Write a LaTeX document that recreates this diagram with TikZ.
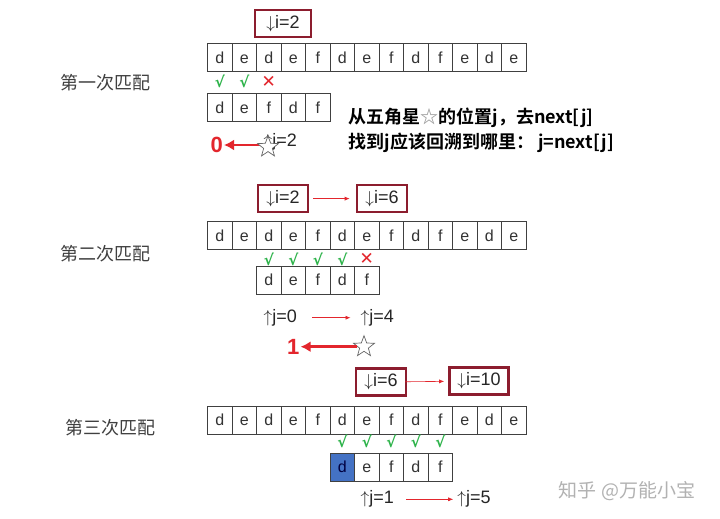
\documentclass[tikz,border=0pt]{standalone}
\usepackage{fontspec}
\setmainfont{Liberation Sans}
\newfontfamily\cjk[BoldFont={Noto Sans CJK SC Bold}]{Noto Sans CJK SC}
\newfontfamily\symfont{DejaVu Sans}
\usetikzlibrary{shapes.geometric,arrows.meta}
\definecolor{boxRed}{HTML}{8C1D2E}
\definecolor{arrowRed}{HTML}{E3262D}
\definecolor{okGreen}{HTML}{2DB34A}
\definecolor{cellBlue}{HTML}{4472C4}
\definecolor{labelGray}{HTML}{404040}

\begin{document}
\begin{tikzpicture}[x=1pt,y=-1pt,
  cell/.style={draw=black!75, line width=0.6pt, minimum width=24.5pt, minimum height=28pt,
    inner sep=0pt, text height=11.5pt, text depth=0pt, font=\fontsize{16}{16}\selectfont, text=black!80},
  ibox/.style={draw=boxRed, line width=2.6pt, minimum height=27pt, inner sep=2pt,
    font=\fontsize{18}{18}\selectfont, text=black!85},
  ptr/.style={inner sep=0pt, anchor=west, font=\fontsize{18}{18}\selectfont, text=black!85},
  thinarrow/.style={arrowRed, line width=0.6pt, -{Latex[length=5pt,width=4pt]}},
  backarrow/.style={arrowRed, line width=2.6pt, -{Latex[length=10pt,width=11pt]}},
  backnum/.style={text=arrowRed, inner sep=1pt, font=\fontsize{22}{22}\selectfont\bfseries},
  starmark/.style={star, star points=5, star point ratio=2.4, minimum size=22pt, inner sep=0pt,
    draw=black!60, fill=white, line width=0.7pt},
  ok/.style={text=okGreen, inner sep=0pt, font=\symfont\bfseries\fontsize{15}{15}\selectfont},
  bad/.style={text=arrowRed, inner sep=0pt, font=\symfont\bfseries\fontsize{17}{17}\selectfont},
  rowlabel/.style={text=labelGray, font=\cjk\fontsize{18}{18}\selectfont}
]
\useasboundingbox[fill=white] (0,0) rectangle (720,519);

% first match
\node[rowlabel] (la) at (105,82.7) {第一次匹配};
\node[ibox, minimum width=56pt] (ia) at (283,23.5) {$\downarrow$i=2};
\foreach \c [count=\k from 0] in {d,e,d,e,f,d,e,f,d,f,e,d,e}
  \node[cell] (ta-\k) at ({219.75+24.5*\k},57.5) {\c};
\foreach \k in {0,1}
  \node[ok] (ca-\k) at ({219.75+24.5*\k},81.7) {√};
\node[bad] (xa) at ({219.75+24.5*2},81.7) {✕};
\foreach \c [count=\k from 0] in {d,e,f,d,f}
  \node[cell] (pa-\k) at ({219.75+24.5*\k},107.5) {\c};
\node[ptr] (ja) at (263.5,142) {$\uparrow$j=2};
\node[backnum] (na) at (216.7,145) {0};
\draw[backarrow] (263,145) coordinate (sa-tail) -- (na);
\node[starmark] (sa) at (268,147) {};
\node[anchor=west, align=left, font=\cjk\bfseries\fontsize{18}{25}\selectfont] (note) at (345,130.5)
  {从五角星{\color{black!40}☆}的位置j，去next[j]\\找到j应该回溯到哪里： j=next[j]};

% second match
\node[rowlabel] (lb) at (105,253.3) {第二次匹配};
\node[ibox, minimum width=50pt] (ib1) at (283,198.6) {$\downarrow$i=2};
\node[ibox, minimum width=50pt] (ib2) at (382,198.6) {$\downarrow$i=6};
\draw[thinarrow, shorten <=4pt, shorten >=6pt] (ib1) -- (ib2);
\foreach \c [count=\k from 0] in {d,e,d,e,f,d,e,f,d,f,e,d,e}
  \node[cell] (tb-\k) at ({219.75+24.5*\k},235.5) {\c};
\foreach \k in {2,...,5}
  \node[ok] (cb-\k) at ({219.75+24.5*\k},259) {√};
\node[bad] (xb) at ({219.75+24.5*6},259) {✕};
\foreach \c [count=\k from 0] in {d,e,f,d,f}
  \node[cell] (pb-\k) at ({219.75+24.5*(\k+2)},280) {\c};
\node[ptr] (jb1) at (263.5,317.7) {$\uparrow$j=0};
\node[ptr] (jb2) at (360.5,317.7) {$\uparrow$j=4};
\draw[thinarrow, shorten <=15pt, shorten >=10pt] (jb1) -- (jb2);
\node[backnum] (nb) at (293.3,346.7) {1};
\node[starmark] (sb) at (364,346.7) {};
\draw[backarrow] (sb) -- (nb);

% third match
\node[rowlabel] (lc) at (110.5,428) {第三次匹配};
\node[ibox, minimum width=50pt] (ic1) at (381,382) {$\downarrow$i=6};
\node[ibox, minimum width=59pt] (ic2) at (479,381) {$\downarrow$i=10};
\draw[thinarrow, shorten <=-2pt, shorten >=4pt] (ic1) -- (ic2);
\foreach \c [count=\k from 0] in {d,e,d,e,f,d,e,f,d,f,e,d,e}
  \node[cell] (tc-\k) at ({219.75+24.5*\k},420) {\c};
\foreach \k in {5,...,9}
  \node[ok] (cc-\k) at ({219.75+24.5*\k},441.7) {√};
\node[cell, fill=cellBlue, text=blue!25!black] (pc-0) at ({219.75+24.5*5},467) {d};
\foreach \c [count=\k] in {e,f,d,f}
  \node[cell] (pc-\k) at ({219.75+24.5*(\k+5)},467) {\c};
\node[ptr] (jc1) at (360.5,499.3) {$\uparrow$j=1};
\node[ptr] (jc2) at (457.2,499.3) {$\uparrow$j=5};
\draw[thinarrow, shorten <=12pt, shorten >=4pt] (jc1) -- (jc2);

\node[text=black!30, font=\cjk\fontsize{19}{19}\selectfont] (wm) at (627,491) {知乎 @万能小宝};
\end{tikzpicture}
\end{document}
